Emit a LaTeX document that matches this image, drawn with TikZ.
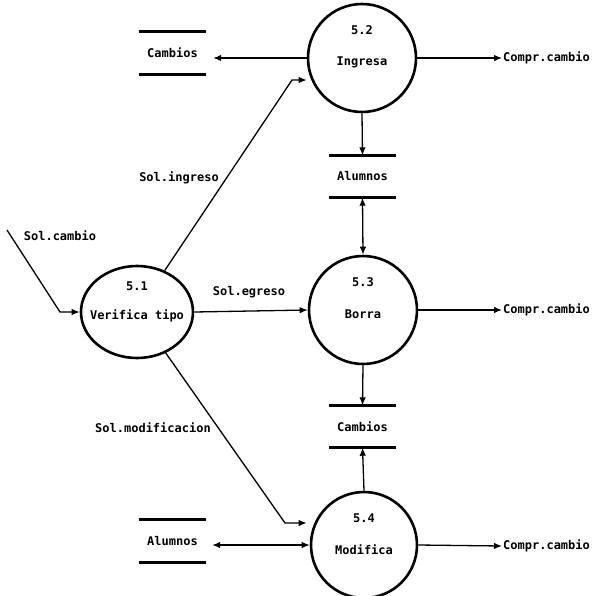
\documentclass[tikz,border=0pt]{standalone}
\usepackage{fontspec}
\setmonofont{DejaVu Sans Mono}
\usetikzlibrary{arrows.meta,shapes.geometric}
\begin{document}
\begin{tikzpicture}[x=1pt,y=-1pt,
  font=\ttfamily\bfseries\fontsize{12}{14}\selectfont,
  proc/.style={circle,draw,line width=2.6pt,minimum size=108pt,inner sep=0pt},
  procell/.style={ellipse,draw,line width=2.6pt,minimum width=112pt,minimum height=92pt,inner sep=0pt},
  store/.style={minimum width=67pt,minimum height=42pt,inner sep=0pt},
  storeline/.style={line width=3pt},
  flow/.style={line width=1.3pt,-{Latex[length=8pt,width=6.5pt]}},
  flowtwo/.style={line width=1.3pt,{Latex[length=8pt,width=6.5pt]}-{Latex[length=8pt,width=6.5pt]}},
  lbl/.style={inner sep=1pt}]
\useasboundingbox (0,0) rectangle (597,595);

% processes
\node[procell] (p51) at (137,312) {};
\node (p51n) at (137,286) {5.1};
\node (p51t) at (137,316) {Verifica tipo};

\node[proc] (p52) at (362,58) {};
\node (p52n) at (362,30) {5.2};
\node (p52t) at (362,62) {Ingresa};

\node[proc] (p53) at (363,310) {};
\node (p53n) at (363,282) {5.3};
\node (p53t) at (363,314) {Borra};

\node[proc,minimum size=106pt] (p54) at (364,545) {};
\node (p54n) at (364,518) {5.4};
\node (p54t) at (364,550) {Modifica};

% data stores
\node[store] (s1) at (172.5,53) {Cambios};
\node[store] (s2) at (362.5,176.5) {Alumnos};
\node[store] (s3) at (362.5,426.5) {Cambios};
\node[store] (s4) at (172.5,541) {Alumnos};
\foreach \s in {s1,s2,s3,s4}
  \draw[storeline] (\s.north west) -- (\s.north east) (\s.south west) -- (\s.south east);

% outputs
\node[lbl,anchor=west] (o1) at (502,58) {Compr.cambio};
\node[lbl,anchor=west] (o2) at (502,310) {Compr.cambio};
\node[lbl,anchor=west] (o3) at (502,546) {Compr.cambio};
\draw[flow] (p52.east) -- (o1.west);
\draw[flow] (p53.east) -- (o2.west);
\draw[flow] (p54.east) -- (o3.west);

% input
\coordinate (c0) at (7,230);
\coordinate (c1) at (60,312);
\node[lbl] (lc) at (60,236) {Sol.cambio};
\draw[flow] (c0) -- (c1) -- (p51.west);

% flows
\coordinate (k1) at (292,80);
\coordinate (k2) at (285,523);
\node[lbl] (li) at (179,178) {Sol.ingreso};
\node[lbl] (le) at (249,292) {Sol.egreso};
\node[lbl] (lm) at (153,428) {Sol.modificacion};
\draw[flow] (p51) -- (k1) -- (k1 -| p52.west);
\draw[flow] (p51.east) -- (p53.west);
\draw[flow] (p51) -- (k2) -- ([xshift=-3pt]k2 -| p54.west);

\draw[flow] (p52.west) -- ([xshift=7pt]p52.west -| s1.east);
\draw[flow] (p52.south) -- (s2.north);
\draw[flowtwo] (s2.south) -- (p53.north);
\draw[flow] (p53.south) -- (s3.north);
\draw[flow] (p54.north) -- (s3.south);
\draw[flowtwo] ([xshift=6pt]s4.east |- p54.west) -- (p54.west);
\end{tikzpicture}
\end{document}
